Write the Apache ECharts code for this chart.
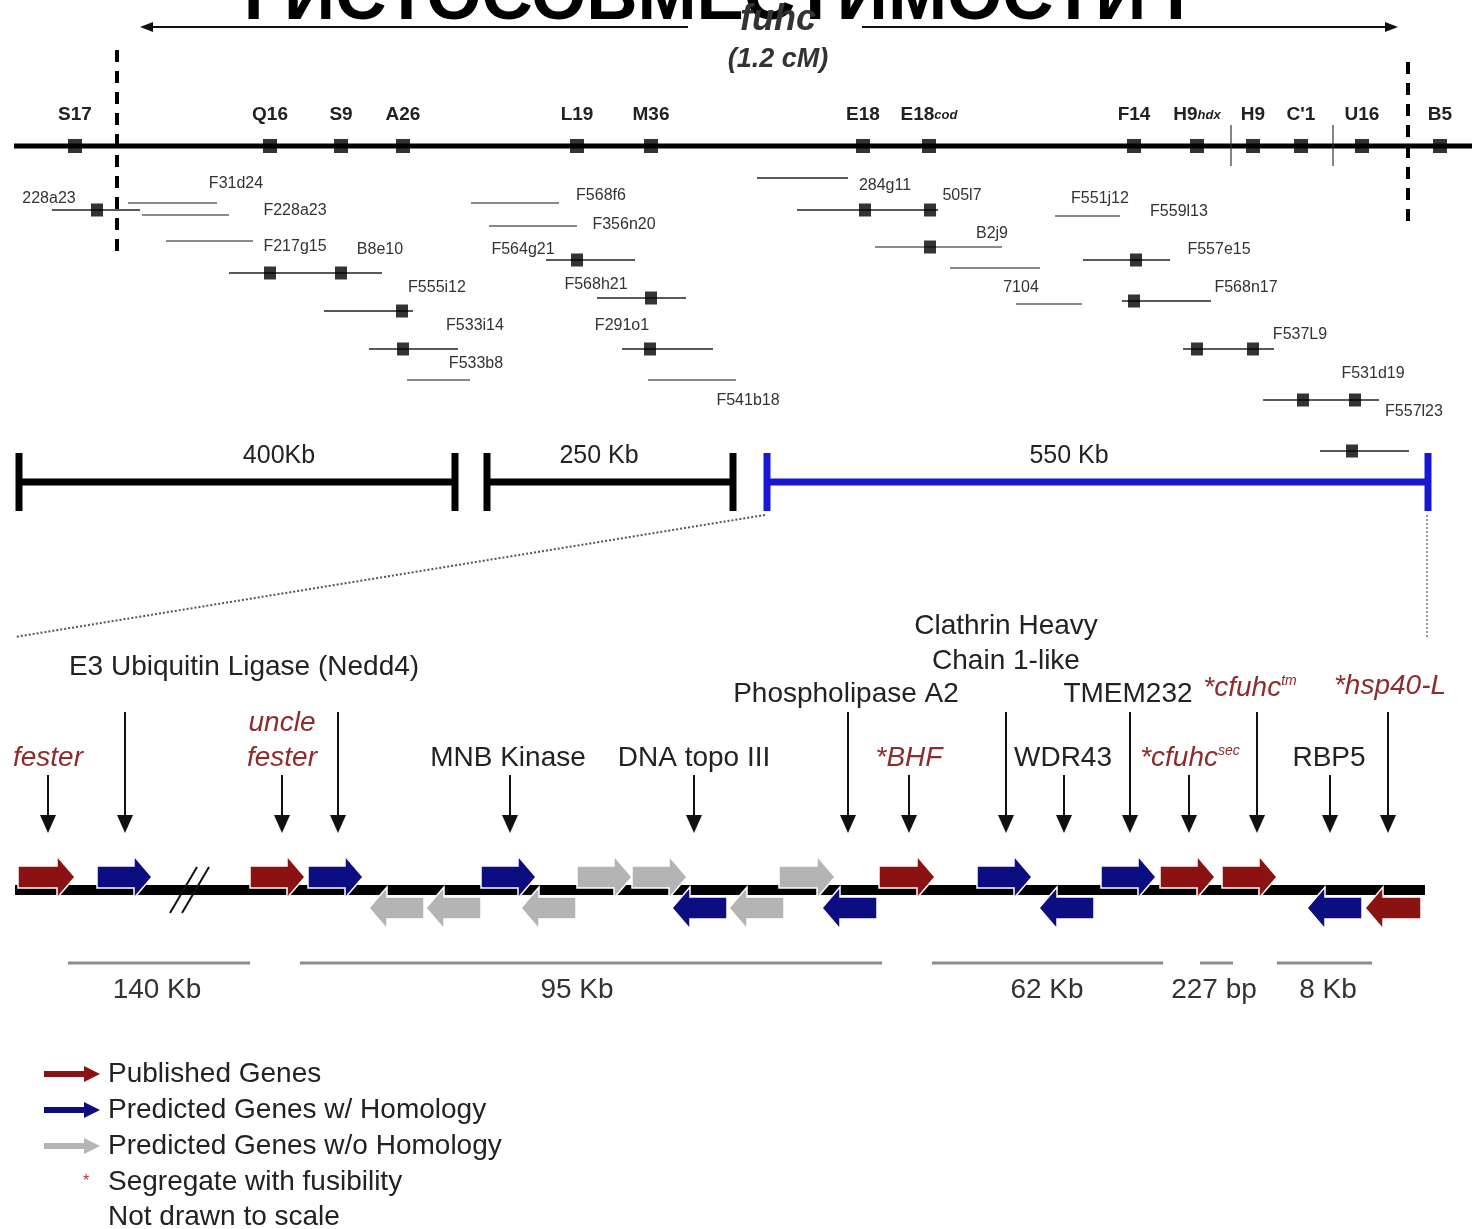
<!DOCTYPE html>
<html><head><meta charset="utf-8">
<script src="https://cdn.jsdelivr.net/npm/echarts@6/dist/echarts.min.js"></script>
<style>html,body{margin:0;padding:0;background:#fff}#c{width:1472px;height:1229px}</style>
</head><body><div id="c"></div>
<script>
// ================= DATA =================
const titleText = 'ГИСТОСОВМЕСТИМОСТИ Г';
const regionName = 'fuhc';
const regionSize = '(1.2 cM)';

// markers on the genetic map
const markerNames = ['S17','Q16','S9','A26','L19','M36','E18','E18|cod','F14','H9|hdx','H9',"C'1",'U16','B5'];
const markerPos   = [75,270,341,403,577,651,863,929,1134,1197,1253,1301,1362,1440];

// BAC clone spans [start, end, row, kind]  kind: 1 = anchored (black), 0 = other (gray)
const cloneSpans = [
  [52,140,210,1],[128,217,203,0],[142,229,215,0],[166,253,241,0],[229,382,273,1],
  [324,413,311,1],[369,458,349,1],[407,470,380,0],[471,559,203,0],[489,577,226,0],
  [546,635,260,1],[597,686,298,1],[622,713,349,1],[648,736,380,0],[757,848,178,1],
  [797,938,210,1],[875,1002,247,0],[950,1040,268,0],[1016,1082,304,0],[1055,1120,216,0],
  [1083,1170,260,1],[1122,1211,301,1],[1183,1274,349,1],[1263,1379,400,1],[1320,1409,451,1]
];
// marker hits on clones [position, row]
const cloneHits = [
  [97,210],[270,273],[341,273],[402,311],[403,349],[577,260],[651,298],[650,349],
  [865,210],[930,210],[930,247],[1136,260],[1134,301],[1197,349],[1253,349],
  [1303,400],[1355,400],[1352,451]
];
// clone names [name, x, row]
const cloneNames = [
  ['228a23',49,199],['F31d24',236,184],['F228a23',295,211],['F217g15',295,247],['B8e10',380,250],
  ['F555i12',437,288],['F533i14',475,326],['F533b8',476,364],['F568f6',601,196],['F356n20',624,225],
  ['F564g21',523,250],['F568h21',596,285],['F291o1',622,326],['F541b18',748,401],['284g11',885,186],
  ['505l7',962,196],['B2j9',992,234],['7104',1021,288],['F551j12',1100,199],['F559l13',1179,212],
  ['F557e15',1219,250],['F568n17',1246,288],['F537L9',1300,335],['F531d19',1373,374],['F557l23',1414,412]
];

// physical scale bars [start, end, label, labelCentre, kind] kind 0 black, 1 blue
const physBars = [[19,455,'400Kb',279,0],[487,733,'250 Kb',599,0],[767,1428,'550 Kb',1069,1]];

// genes [start, end, strand(+1/-1), class] class: 0 published, 1 predicted w/ homology, 2 predicted w/o homology
const genes = [
  [18,75,1,0],[97,152,1,1],[250,305,1,0],[308,363,1,1],[481,536,1,1],[577,632,1,2],[632,687,1,2],
  [779,835,1,2],[879,935,1,0],[977,1032,1,1],[1101,1156,1,1],[1160,1215,1,0],[1222,1277,1,0],
  [369,424,-1,2],[426,481,-1,2],[521,576,-1,2],[672,727,-1,1],[729,784,-1,2],[822,877,-1,1],
  [1039,1094,-1,1],[1307,1362,-1,1],[1365,1421,-1,0]
];
// gene annotation pointers [x, top]
const pointers = [[48,775],[125,712],[282,775],[338,712],[510,775],[694,775],[848,712],[909,775],
  [1006,712],[1064,775],[1130,712],[1189,775],[1257,712],[1330,775],[1388,712]];
// gene annotation texts [text, x, y, segregates(1 = red italic)]
const geneLabels = [
  ['fester',48,758,1],['E3 Ubiquitin Ligase (Nedd4)',244,667,0],['uncle',282,723,1],['fester',282,758,1],
  ['MNB Kinase',508,758,0],['DNA topo III',694,758,0],['Phospholipase A2',846,694,0],['*BHF',909,758,1],
  ['Clathrin Heavy',1006,626,0],['Chain 1-like',1006,661,0],['WDR43',1063,758,0],['TMEM232',1128,694,0],
  ['*cfuhc|sec',1190,758,1],['*cfuhc|tm',1250,688,1],['*hsp40-L',1390,686,1],['RBP5',1329,758,0]
];
// gene-level distance bars [start, end, label, labelCentre]
const geneScale = [[68,250,'140 Kb',157],[300,882,'95 Kb',577],[932,1163,'62 Kb',1047],[1200,1233,'227 bp',1214],[1277,1372,'8 Kb',1328]];

const legendItems = ['Published Genes','Predicted Genes w/ Homology','Predicted Genes w/o Homology','Segregate with fusibility','Not drawn to scale'];

// ================= STYLE =================
const FONT = '"Liberation Sans", Arial, sans-serif';
const RED = '#8a1212', BLUE = '#0d0d82', GRAY = '#b4b4b4';
const GENE_COL = [RED, BLUE, GRAY];
const LABEL_RED = '#8e2c2c';
const MAP_Y = 146, GENE_Y = 890, BAR_Y = 482, GS_Y = 963;

function segSeries(data, style, z) {
  return { type:'custom', z: z||2, data: data, silent:true,
    renderItem: function(p, api){
      const a = api.coord([api.value(0), api.value(1)]);
      const b = api.coord([api.value(2), api.value(3)]);
      return { type:'line', shape:{x1:a[0],y1:a[1],x2:b[0],y2:b[1]}, style: Object.assign({}, style) };
    }};
}
function polySeries(items, shapeFn, styleFn, z) {
  return { type:'custom', z: z||3, silent:true, data: items.map(function(d){return [d[0], d[1]];}),
    renderItem: function(p, api){
      const d = items[p.dataIndex];
      const pts = shapeFn(d).map(function(q){ return api.coord(q); });
      return { type:'polygon', shape:{points:pts}, style: styleFn(d) };
    }};
}
function textSeries(items, styleFn, z) {
  return { type:'custom', z: z||5, silent:true, data: items.map(function(d){return [d.x, d.y];}),
    renderItem: function(p, api){
      const d = items[p.dataIndex];
      const c = api.coord([d.x, d.y]);
      return { type:'text', x:c[0], y:c[1], style: styleFn(d) };
    }};
}

const series = [];

// ---- title (cut off at top) ----
series.push(textSeries([{x:725, y:-1, t:titleText}], function(d){
  return {text:d.t, fontFamily:FONT, fontWeight:'bold', fontSize:71, fill:'#000', align:'center', verticalAlign:'middle'};
}, 1));

// ---- region arrows ----
series.push(segSeries([[150,27,688,27],[862,27,1388,27]], {stroke:'#111', lineWidth:2}));
series.push(polySeries([[140,27,-1],[1398,27,1]], function(d){
  return [[d[0],d[1]],[d[0]-d[2]*13,d[1]-5],[d[0]-d[2]*13,d[1]+5]];
}, function(){return {fill:'#111'};}));
series.push(textSeries([{x:778,y:20,t:regionName,s:36},{x:778,y:60,t:regionSize,s:27}], function(d){
  return {text:d.t, fontFamily:FONT, fontWeight:'bold', fontStyle:'italic', fontSize:d.s, fill:'#333', align:'center', verticalAlign:'middle'};
}));

// ---- genetic map ----
series.push(segSeries([[14,MAP_Y,1472,MAP_Y]], {stroke:'#000', lineWidth:5}));
series.push(segSeries([[117,50,117,256],[1408,62,1408,230]], {stroke:'#000', lineWidth:4, lineDash:[12,9]}));
series.push(segSeries([[1231,125,1231,166],[1333,125,1333,166]], {stroke:'#333', lineWidth:1.2}));
series.push({type:'scatter', z:4, silent:true, symbol:'rect', symbolSize:14, itemStyle:{color:'#000'},
  data: markerPos.map(function(x){return [x, MAP_Y];})});
series.push(textSeries(markerNames.map(function(n,i){return {x:markerPos[i], y:115, t:n};}), function(d){
  const parts = d.t.split('|');
  if (parts.length > 1) {
    return {text:'{a|'+parts[0]+'}{b|'+parts[1]+'}', align:'center', verticalAlign:'middle',
      rich:{a:{fontFamily:FONT, fontWeight:'bold', fontSize:19, fill:'#222'},
            b:{fontFamily:FONT, fontWeight:'bold', fontStyle:'italic', fontSize:13, fill:'#222'}}};
  }
  return {text:d.t, fontFamily:FONT, fontWeight:'bold', fontSize:19, fill:'#222', align:'center', verticalAlign:'middle'};
}));

// ---- clones ----
series.push(segSeries(cloneSpans.filter(function(c){return c[3]===0;}).map(function(c){return [c[0],c[2],c[1],c[2]];}), {stroke:'#8a8a8a', lineWidth:2}));
series.push(segSeries(cloneSpans.filter(function(c){return c[3]===1;}).map(function(c){return [c[0],c[2],c[1],c[2]];}), {stroke:'#222', lineWidth:1.6}));
series.push({type:'scatter', z:4, silent:true, symbol:'rect', symbolSize:[12,13], itemStyle:{color:'#000'}, data: cloneHits});
series.push(textSeries(cloneNames.map(function(c){return {x:c[1], y:c[2], t:c[0]};}), function(d){
  return {text:d.t, fontFamily:FONT, fontSize:16, fill:'#333', align:'center', verticalAlign:'middle'};
}));

// ---- physical scale bars ----
physBars.forEach(function(b){
  const col = b[4] ? '#1818d4' : '#000';
  series.push(segSeries([[b[0],BAR_Y,b[1],BAR_Y]], {stroke:col, lineWidth:7}));
  series.push(segSeries([[b[0],453,b[0],511],[b[1],453,b[1],511]], {stroke:col, lineWidth:7}));
});
series.push(textSeries(physBars.map(function(b){return {x:b[3], y:456, t:b[2]};}), function(d){
  return {text:d.t, fontFamily:FONT, fontSize:25, fill:'#222', align:'center', verticalAlign:'middle'};
}));
// zoom guides
series.push(segSeries([[765,515,15,637]], {stroke:'#555', lineWidth:2, lineDash:[2,2]}));
series.push(segSeries([[1427,515,1427,637]], {stroke:'#777', lineWidth:1.5, lineDash:[2,2]}));

// ---- gene line and genes ----
series.push(segSeries([[15,GENE_Y,1425,GENE_Y]], {stroke:'#000', lineWidth:10}));
series.push(segSeries([[170,913,197,867],[182,913,209,867]], {stroke:'#111', lineWidth:2}, 3));
series.push(polySeries(genes, function(g){
  const yc = g[2] > 0 ? 877 : 908, bh = 11, hh = 21, hl = 18;
  if (g[2] > 0) {
    return [[g[0],yc-bh],[g[1]-hl,yc-bh],[g[1]-hl,yc-hh],[g[1],yc],[g[1]-hl,yc+hh],[g[1]-hl,yc+bh],[g[0],yc+bh]];
  }
  return [[g[1],yc-bh],[g[0]+hl,yc-bh],[g[0]+hl,yc-hh],[g[0],yc],[g[0]+hl,yc+hh],[g[0]+hl,yc+bh],[g[1],yc+bh]];
}, function(g){ return {fill:GENE_COL[g[3]], stroke:'#fff', lineWidth:1.5}; }, 4));

// pointers
series.push(segSeries(pointers.map(function(p){return [p[0],p[1],p[0],818];}), {stroke:'#111', lineWidth:2}));
series.push(polySeries(pointers, function(p){ return [[p[0]-8,815],[p[0]+8,815],[p[0],833]]; },
  function(){return {fill:'#111'};}));
series.push(textSeries(geneLabels.map(function(g){return {x:g[1], y:g[2], t:g[0], r:g[3]};}), function(d){
  const parts = d.t.split('|');
  const base = {fontFamily:FONT, fontSize:28, fill: d.r ? LABEL_RED : '#222', fontStyle: d.r ? 'italic' : 'normal'};
  if (parts.length > 1) {
    return {text:'{a|'+parts[0]+'}{b|'+parts[1]+'}', align:'center', verticalAlign:'middle',
      rich:{a:base, b:{fontFamily:FONT, fontSize:14, fill:LABEL_RED, fontStyle:'italic', verticalAlign:'top'}}};
  }
  return Object.assign({text:d.t, align:'center', verticalAlign:'middle'}, base);
}));

// gene-level distances
series.push(segSeries(geneScale.map(function(s){return [s[0],GS_Y,s[1],GS_Y];}), {stroke:'#8c8c8c', lineWidth:3}));
series.push(textSeries(geneScale.map(function(s){return {x:s[3], y:990, t:s[2]};}), function(d){
  return {text:d.t, fontFamily:FONT, fontSize:28, fill:'#333', align:'center', verticalAlign:'middle'};
}));

// ---- legend ----
const legendRows = [1074,1110,1146];
legendRows.forEach(function(y,i){
  series.push(segSeries([[44,y,88,y]], {stroke:GENE_COL[i], lineWidth:6}));
  series.push(polySeries([[100,y]], function(p){return [[p[0],p[1]],[p[0]-16,p[1]-8],[p[0]-16,p[1]+8]];},
    function(){return {fill:GENE_COL[i]};}));
});
series.push(textSeries([{x:86,y:1182,t:'*'}], function(d){
  return {text:d.t, fontFamily:FONT, fontSize:16, fill:'#b03030', align:'center', verticalAlign:'middle'};
}));
series.push(textSeries(legendItems.map(function(t,i){return {x:108, y:[1074,1110,1146,1182,1217][i], t:t};}), function(d){
  return {text:d.t, fontFamily:FONT, fontSize:28, fill:'#222', align:'left', verticalAlign:'middle'};
}));

const chart = echarts.init(document.getElementById('c'), null, {renderer:'canvas'});
chart.setOption({
  animation:false,
  backgroundColor:'#fff',
  grid:{left:0,right:0,top:0,bottom:0},
  xAxis:{type:'value', min:0, max:1472, show:false},
  yAxis:{type:'value', min:0, max:1229, inverse:true, show:false},
  series: series
});
</script></body></html>
